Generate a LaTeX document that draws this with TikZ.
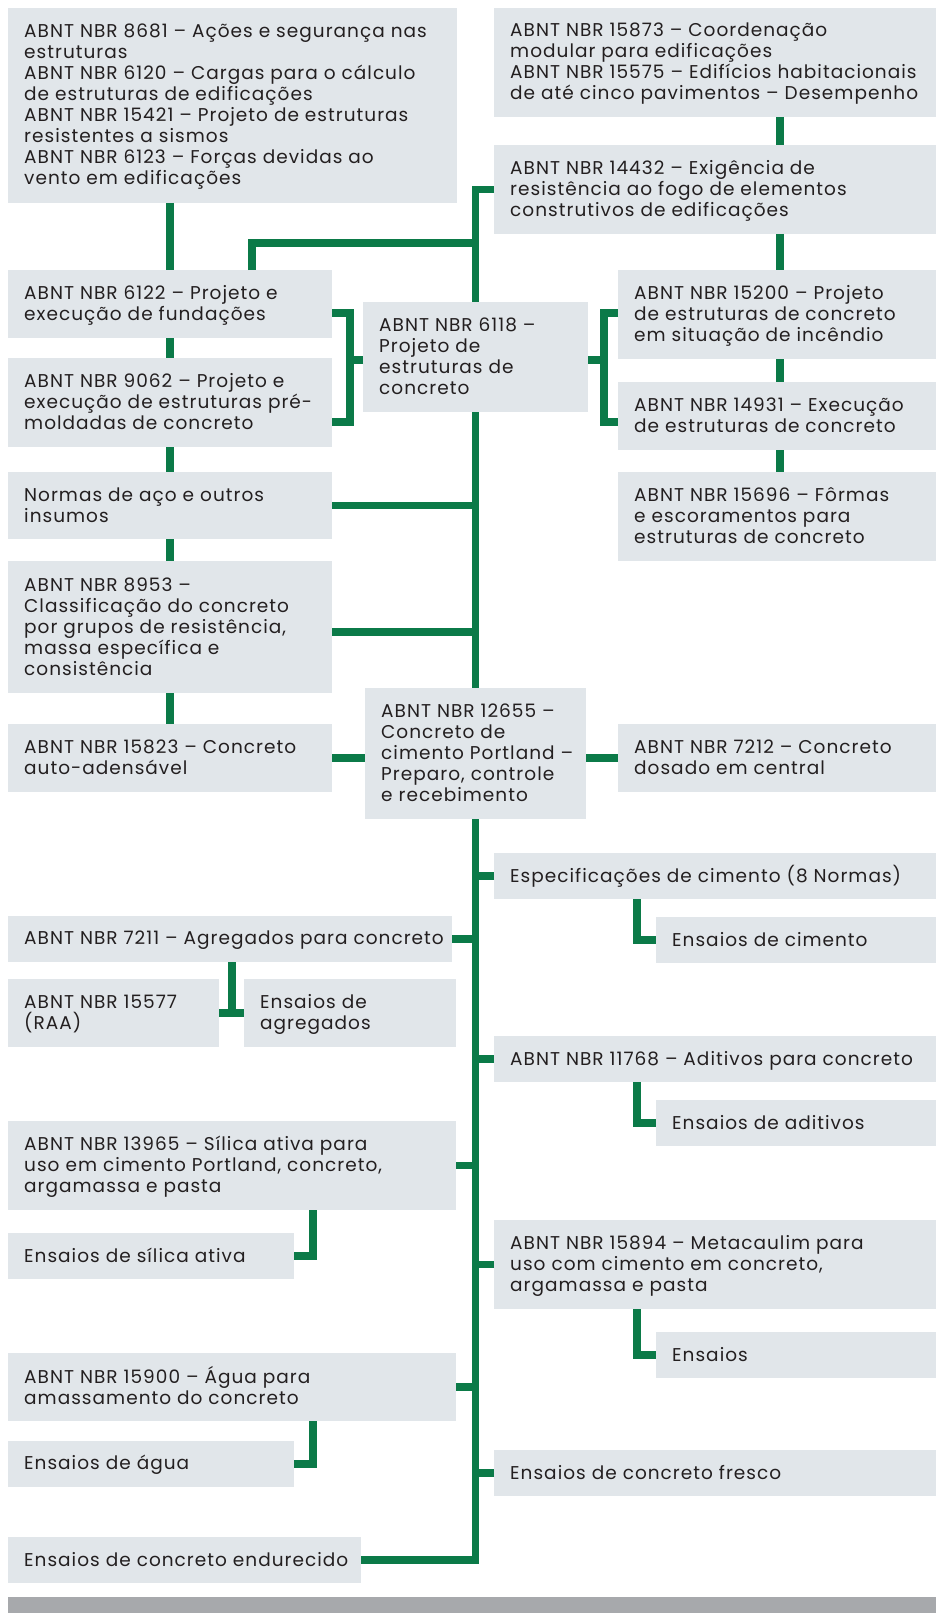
\documentclass[tikz,border=0pt]{standalone}
\usepackage{fontspec}
\setmainfont[LetterSpace=5.5]{Poppins}
\definecolor{grn}{HTML}{0B7A48}
\definecolor{boxc}{HTML}{E1E6EA}
\definecolor{txtc}{HTML}{231F20}
\definecolor{barc}{HTML}{A7A9AC}
\newcommand\zs{\rule[-3.9pt]{0pt}{20.7pt}}
\newcommand\txtfont{\fontsize{18.5}{21}\selectfont\lineskiplimit=-50pt\relax}
\tikzset{
  boxst/.style={fill=boxc, draw=none, inner sep=0pt, outer sep=0pt, rectangle},
  txt/.style={anchor=west, align=left, inner sep=0pt, text=txtc, font=\txtfont},
  conn/.style={draw=grn, line width=7.5pt}
}
\newcommand\mkbox[6]{%
  \node[boxst, minimum width={#4-#2}, minimum height={#5-#3}] (#1) at ({(#2+#4)/2},{(#3+#5)/2}) {};
  \node[txt] (#1-t) at ([xshift=16pt]#1.west) {\zs #6\zs};}
\begin{document}
\begin{tikzpicture}[x=1pt,y=-1pt]
\fill[white] (0,0) rectangle (936,1613);
\useasboundingbox (0,0) rectangle (936,1613);
% boxes
\mkbox{nA}{8}{8}{457}{203}{ABNT NBR 8681 – Ações e segurança nas\\estruturas\\ABNT NBR 6120 – Cargas para o cálculo\\de estruturas de edificações\\ABNT NBR 15421 – Projeto de estruturas\\resistentes a sismos\\ABNT NBR 6123 – Forças devidas ao\\vento em edificações}
\mkbox{n15873}{494}{8}{936}{117}{ABNT NBR 15873 – Coordenação\\modular para edificações\\ABNT NBR 15575 – Edifícios habitacionais\\de até cinco pavimentos – Desempenho}
\mkbox{n14432}{494}{145}{936}{234}{ABNT NBR 14432 – Exigência de\\resistência ao fogo de elementos\\construtivos de edificações}
\mkbox{n6122}{8}{270}{332}{338}{ABNT NBR 6122 – Projeto e\\execução de fundações}
\mkbox{n9062}{8}{358}{332}{447}{ABNT NBR 9062 – Projeto e\\execução de estruturas pré-\\moldadas de concreto}
\mkbox{n6118}{363}{302}{588}{412}{ABNT NBR 6118 –\\Projeto de\\estruturas de\\concreto}
\mkbox{n15200}{618}{270}{936}{359}{ABNT NBR 15200 – Projeto\\de estruturas de concreto\\em situação de incêndio}
\mkbox{n14931}{618}{382}{936}{450}{ABNT NBR 14931 – Execução\\de estruturas de concreto}
\mkbox{n15696}{618}{472}{936}{561}{ABNT NBR 15696 – Fôrmas\\e escoramentos para\\estruturas de concreto}
\mkbox{nNormas}{8}{472}{332}{539}{Normas de aço e outros\\insumos}
\mkbox{n8953}{8}{561}{332}{693}{ABNT NBR 8953 –\\Classificação do concreto\\por grupos de resistência,\\massa específica e\\consistência}
\mkbox{n15823}{8}{724}{332}{792}{ABNT NBR 15823 – Concreto\\auto-adensável}
\mkbox{n12655}{365}{688}{586}{819}{ABNT NBR 12655 –\\Concreto de\\cimento Portland –\\Preparo, controle\\e recebimento}
\mkbox{n7212}{618}{724}{936}{792}{ABNT NBR 7212 – Concreto\\dosado em central}
\mkbox{nEsp}{494}{853}{936}{899}{Especificações de cimento (8 Normas)}
\mkbox{nEnsCim}{656}{917}{936}{963}{Ensaios de cimento}
\mkbox{n7211}{8}{916}{452}{962}{ABNT NBR 7211 – Agregados para concreto}
\mkbox{n15577}{8}{979}{219}{1047}{ABNT NBR 15577\\(RAA)}
\mkbox{nEnsAgr}{244}{979}{456}{1047}{Ensaios de\\agregados}
\mkbox{n11768}{494}{1036}{936}{1082}{ABNT NBR 11768 – Aditivos para concreto}
\mkbox{nEnsAdi}{656}{1100}{936}{1146}{Ensaios de aditivos}
\mkbox{n13965}{8}{1121}{456}{1210}{ABNT NBR 13965 – Sílica ativa para\\uso em cimento Portland, concreto,\\argamassa e pasta}
\mkbox{nEnsSil}{8}{1233}{294}{1279}{Ensaios de sílica ativa}
\mkbox{n15894}{494}{1220}{936}{1309}{ABNT NBR 15894 – Metacaulim para\\uso com cimento em concreto,\\argamassa e pasta}
\mkbox{nEnsMet}{656}{1332}{936}{1378}{Ensaios}
\mkbox{n15900}{8}{1353}{456}{1421}{ABNT NBR 15900 – Água para\\amassamento do concreto}
\mkbox{nEnsAgua}{8}{1441}{294}{1487}{Ensaios de água}
\mkbox{nFresco}{494}{1450}{936}{1496}{Ensaios de concreto fresco}
\mkbox{nEnd}{8}{1537}{361}{1583}{Ensaios de concreto endurecido}
\node[fill=barc, inner sep=0pt, outer sep=0pt, minimum width=928pt, minimum height=16pt] (bar) at (472,1605) {};
% junction coordinates
\coordinate (xr) at (780,0);
\coordinate (jA) at (252,243);
\coordinate (bl) at (350,0);
\coordinate (br) at (604,0);
\coordinate (yb1) at (0,313);
\coordinate (yb2) at (0,422);
\coordinate (xL) at (637,0);
\coordinate (xS) at (313,0);
\coordinate (xT) at (232,1011);
% left spine
\draw[conn] (nA.south -| n6122.north) -- (n6122.north);
\draw[conn] (n6122.south) -- (n9062.north);
\draw[conn] (n9062.south) -- (nNormas.north);
\draw[conn] (nNormas.south) -- (n8953.north);
\draw[conn] (n8953.south) -- (n15823.north);
% right spine
\draw[conn] (n15873.south -| xr) -- (n14432.north -| xr);
\draw[conn] (n14432.south -| xr) -- (n15200.north -| xr);
\draw[conn] (n15200.south -| xr) -- (n14931.north -| xr);
\draw[conn] (n14931.south -| xr) -- (n15696.north -| xr);
% top trunk
\draw[conn] (n14432.west) -| (n6118.north);
\draw[conn] (n6122.north -| jA) |- (n6118.north |- jA);
% brackets
\draw[conn] (n6122.east |- yb1) -| (bl |- yb2) -- (n9062.east |- yb2);
\draw[conn] ([yshift=-3pt]n6118.west) -- ([yshift=-3pt]n6118.west -| bl);
\draw[conn] (n15200.west |- yb1) -| (br |- yb2) -- (n14931.west |- yb2);
\draw[conn] ([yshift=-3pt]n6118.east) -- ([yshift=-3pt]n6118.east -| br);
% trunk
\draw[conn] (n6118.south) -- (n12655.north);
\draw[conn] (nNormas.east) -- (nNormas.east -| n6118.south);
\draw[conn] ([yshift=-5pt]n8953.east) -- ([yshift=-5pt]n8953.east -| n6118.south);
\draw[conn] (n15823.east) -- (n12655.west |- n15823.east);
\draw[conn] (n12655.east |- n7212.west) -- (n7212.west);
\draw[conn] (n12655.south) |- (nEnd.east);
\draw[conn] (nEsp.west) -- (nEsp.west -| n12655.south);
\draw[conn] (n11768.west) -- (n11768.west -| n12655.south);
\draw[conn] (n15894.west) -- (n15894.west -| n12655.south);
\draw[conn] (nFresco.west) -- (nFresco.west -| n12655.south);
\draw[conn] (n7211.east) -- (n7211.east -| n12655.south);
\draw[conn] (n13965.east) -- (n13965.east -| n12655.south);
\draw[conn] (n15900.east) -- (n15900.east -| n12655.south);
% sub connectors
\draw[conn] (nEsp.south -| xL) |- (nEnsCim.west);
\draw[conn] (n11768.south -| xL) |- (nEnsAdi.west);
\draw[conn] (n15894.south -| xL) |- (nEnsMet.west);
\draw[conn] (n13965.south -| xS) |- (nEnsSil.east);
\draw[conn] (n15900.south -| xS) |- (nEnsAgua.east);
\draw[conn] (n7211.south -| xT) -- (xT);
\draw[conn] (n15577.east) -- (nEnsAgr.west);
\end{tikzpicture}
\end{document}
